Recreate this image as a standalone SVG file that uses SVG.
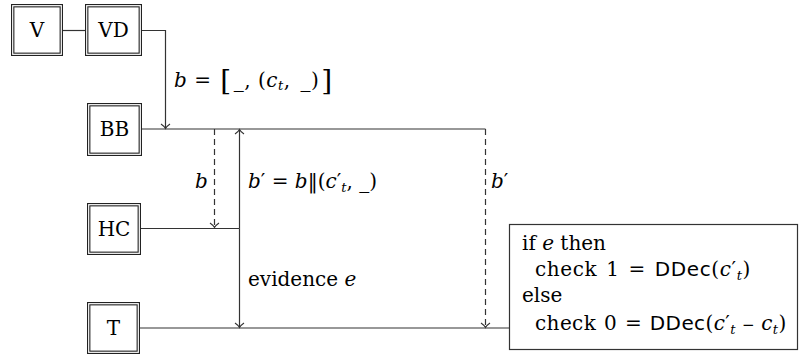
<svg xmlns="http://www.w3.org/2000/svg" width="802" height="360" viewBox="0 0 802 360">
<defs>
<style>
.box rect.o{fill:#fff;stroke:#222;stroke-width:3.4}
.box rect.i{fill:none;stroke:#fff;stroke-width:1.2}
.box text,.lbl{font-family:"DejaVu Serif",serif;font-size:20px;fill:#000}
.box text{text-anchor:middle}
.c{fill:none;stroke:#333;stroke-width:1.2}
.d{stroke-dasharray:6,4}
.it{font-style:italic}
.sub{font-style:italic;font-size:13px}
.sf{font-family:"DejaVu Sans","Liberation Sans",sans-serif;font-size:20px}
.w1{letter-spacing:0.6px;word-spacing:2px}
.w2{letter-spacing:0.4px;word-spacing:1px}
.w0{letter-spacing:0.5px}
</style>
<marker id="ah" markerWidth="12" markerHeight="12" refX="6" refY="6" orient="auto" markerUnits="userSpaceOnUse">
<path d="M1.5,1.5 Q4,5 6,6 Q4,7 1.5,10.5" fill="none" stroke="#333" stroke-width="1.1"/>
</marker>
</defs>
<rect width="802" height="360" fill="#fff"/>
<g id="connectors">
<path class="c" d="M63,30.5 H85"/>
<path class="c" d="M142,30.5 H165.5 V128.5" marker-end="url(#ah)"/>
<path class="c" d="M142,129 H485.5"/>
<path class="c d" d="M485.5,129 V327.5" marker-end="url(#ah)"/>
<path class="c d" d="M214.5,129 V227.5" marker-end="url(#ah)"/>
<path class="c" d="M141,228.5 H239.5"/>
<path class="c" d="M239.5,228.5 V129.5" marker-end="url(#ah)"/>
<path class="c" d="M239.5,228.5 V327.5" marker-end="url(#ah)"/>
<path class="c" d="M140,328 H509"/>
</g>
<g id="V" class="box"><rect class="o" x="12.7" y="5.7" width="48.6" height="48.6"/><rect class="i" x="12.7" y="5.7" width="48.6" height="48.6"/><text x="37" y="37">V</text></g>
<g id="VD" class="box"><rect class="o" x="86.7" y="5.7" width="53.6" height="48.6"/><rect class="i" x="86.7" y="5.7" width="53.6" height="48.6"/><text x="113.5" y="37">VD</text></g>
<g id="BB" class="box"><rect class="o" x="88.7" y="104.7" width="51.6" height="49.6"/><rect class="i" x="88.7" y="104.7" width="51.6" height="49.6"/><text x="114.5" y="136">BB</text></g>
<g id="HC" class="box"><rect class="o" x="88.7" y="204.7" width="50.6" height="48.6"/><rect class="i" x="88.7" y="204.7" width="50.6" height="48.6"/><text x="114" y="235.5">HC</text></g>
<g id="T" class="box"><rect class="o" x="88.7" y="303.7" width="49.6" height="48.6"/><rect class="i" x="88.7" y="303.7" width="49.6" height="48.6"/><text x="113.5" y="335">T</text></g>
<g id="labels">
<text class="lbl w0" x="174" y="87"><tspan class="it">b</tspan> = <tspan font-size="28" dy="3" dx="2">[</tspan><tspan dy="-3" dx="2">_, (</tspan><tspan class="it">c</tspan><tspan class="sub" dy="3">t</tspan><tspan dy="-3">, </tspan><tspan dx="3">_)</tspan><tspan font-size="28" dy="3" dx="2">]</tspan></text>
<text class="lbl it" x="195" y="188">b</text>
<text class="lbl" x="248" y="188"><tspan class="it">b</tspan>′ = <tspan class="it">b</tspan>‖(<tspan class="it">c</tspan>′<tspan class="sub" dy="4">t</tspan><tspan dy="-4">, _)</tspan></text>
<text class="lbl" x="491" y="188"><tspan class="it">b</tspan>′</text>
<text class="lbl" x="248" y="286">evidence <tspan class="it">e</tspan></text>
</g>
<g id="cond">
<rect x="509.5" y="224.5" width="288" height="125" fill="#fff" stroke="#333" stroke-width="1.2"/>
<text class="lbl" x="522" y="250">if <tspan class="it">e</tspan> then</text>
<text class="lbl w1" x="535" y="276">check 1 = <tspan class="sf">DDec</tspan>(<tspan class="it">c</tspan>′<tspan class="sub" dy="4">t</tspan><tspan dy="-4">)</tspan></text>
<text class="lbl" x="522" y="302">else</text>
<text class="lbl w2" x="535" y="330">check 0 = <tspan class="sf">DDec</tspan>(<tspan class="it">c</tspan>′<tspan class="sub" dy="4">t</tspan><tspan dy="-4" font-size="15"> − </tspan><tspan class="it">c</tspan><tspan class="sub" dy="4">t</tspan><tspan dy="-4">)</tspan></text>
</g>
</svg>
